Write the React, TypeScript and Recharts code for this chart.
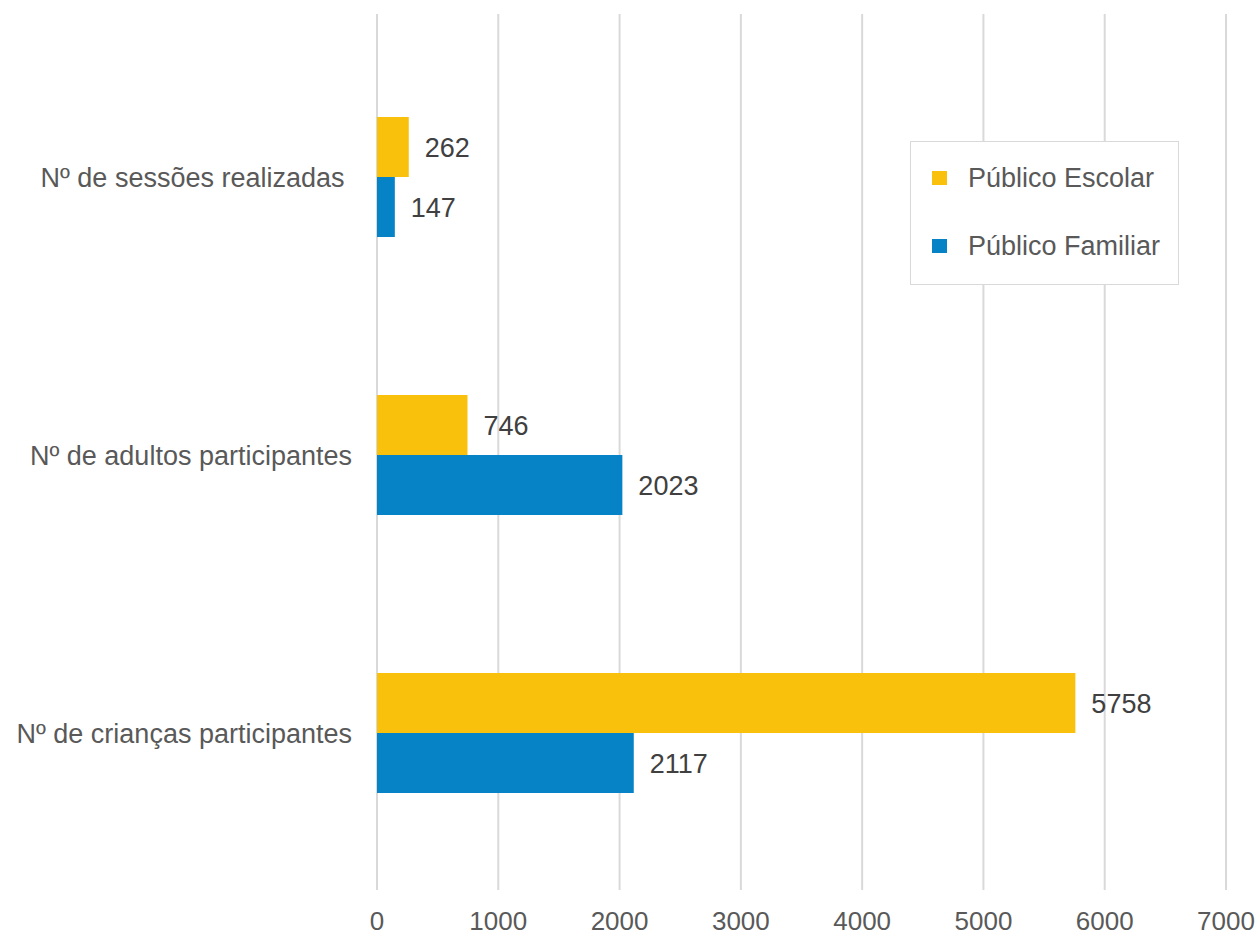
import React from 'react';
import { BarChart, Bar, XAxis, YAxis, CartesianGrid, LabelList } from 'recharts';

const categories = [
    'Nº de sessões realizadas\u00A0',
    'Nº de adultos participantes',
    'Nº de crianças participantes',
];
const escolar = [262, 746, 5758];
const familiar = [147, 2023, 2117];
const xTicks = [0, 1000, 2000, 3000, 4000, 5000, 6000, 7000];

const series = [
    { key: 'escolar', name: 'Público Escolar', color: '#F9C10B' },
    { key: 'familiar', name: 'Público Familiar', color: '#0583C6' },
];

const data = categories.map((c, i) => ({ name: c, escolar: escolar[i], familiar: familiar[i] }));

const FONT = '"Liberation Sans", Arial, sans-serif';

const App: React.FC = () => {
    return (
        <div style={{ position: 'absolute', left: 0, top: 0, width: 1259, height: 936, background: '#fff', fontFamily: FONT }}>
            <BarChart
                width={1259}
                height={936}
                data={data}
                layout="vertical"
                margin={{ top: 14, right: 33, left: 0, bottom: 0 }}
                barSize={60}
                barGap={0}
            >
                <CartesianGrid horizontal={false} stroke="#d9d9d9" strokeWidth={2} />
                <XAxis
                    type="number"
                    domain={[0, 7000]}
                    ticks={xTicks}
                    axisLine={false}
                    tickLine={false}
                    tickSize={0}
                    tickMargin={22}
                    height={46}
                    tick={{ fontSize: 26, fill: '#595959', fontFamily: FONT }}
                />
                <YAxis
                    type="category"
                    dataKey="name"
                    width={377}
                    axisLine={false}
                    tickLine={false}
                    tickSize={0}
                    tickMargin={25}
                    padding={{ top: 24, bottom: 18 }}
                    tick={{ fontSize: 27, fill: '#595959', fontFamily: FONT }}
                />
                {series.map((s) => (
                    <Bar key={s.key} dataKey={s.key} name={s.name} fill={s.color} isAnimationActive={false}>
                        <LabelList
                            dataKey={s.key}
                            position="right"
                            offset={16}
                            style={{ fontSize: 27, fill: '#404040', fontFamily: FONT }}
                        />
                    </Bar>
                ))}
            </BarChart>
            <div
                style={{
                    position: 'absolute',
                    left: 910,
                    top: 141,
                    width: 269,
                    height: 144,
                    boxSizing: 'border-box',
                    border: '1.5px solid #d9d9d9',
                    background: '#fff',
                }}
            >
                {series.map((s, i) => (
                    <div
                        key={s.key}
                        style={{
                            position: 'absolute',
                            left: 21,
                            top: 36 + i * 68 - 17,
                            height: 34,
                            display: 'flex',
                            alignItems: 'center',
                            whiteSpace: 'nowrap',
                        }}
                    >
                        <span style={{ width: 15, height: 14, background: s.color, display: 'inline-block' }} />
                        <span style={{ marginLeft: 21, fontSize: 27, color: '#595959' }}>{s.name}</span>
                    </div>
                ))}
            </div>
        </div>
    );
};

export default App;
